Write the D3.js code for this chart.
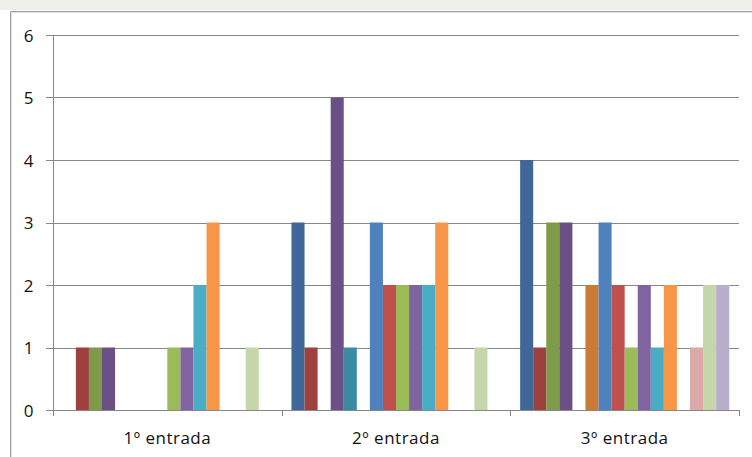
<!DOCTYPE html>
<html><head><meta charset="utf-8">
<script src="https://cdn.jsdelivr.net/npm/d3@7"></script>
<style>body{margin:0;background:#fff;}svg{display:block;}</style>
</head><body>
<svg id="c" width="752" height="457"></svg>
<script>
const categories = ["1º entrada", "2º entrada", "3º entrada"];
const seriesNames = ["S1","S2","S3","S4","S5","S6","S7","S8","S9","S10","S11","S12","S13","S14","S15","S16"];
const seriesColors = ["#3F6898","#9D403E","#7F9A48","#6A5086","#3A8BA2","#CC7B37","#4F81BD","#C0504D","#9BBB59","#8064A2","#4BACC6","#F79646","#95B3D7","#DBA9A8","#C5D7AA","#B8AECC"];
const values1 = [0,1,1,1,0,0,0,0,1,1,2,3,0,0,1,0];
const values2 = [3,1,0,5,1,0,3,2,2,2,2,3,0,0,1,0];
const values3 = [4,1,3,3,0,2,3,2,1,2,1,2,0,1,2,2];
const yTicks = [0,1,2,3,4,5,6];

const data = [values1, values2, values3];
const svg = d3.select("#c");
const font = "'Open Sans', 'Noto Sans', sans-serif";

// chart area frame
svg.append("rect").attr("x",0).attr("y",0).attr("width",752).attr("height",10).attr("fill","#F0F0EA");
svg.append("path").attr("d","M10.5,457V11.5H752").attr("fill","none").attr("stroke","#9E9E9E").attr("stroke-width",1);
svg.append("path").attr("d","M11.5,457V12.5H752").attr("fill","none").attr("stroke","#E4E4E4").attr("stroke-width",1);

const x0 = d3.scaleBand().domain(categories).range([53, 739]).paddingInner(0).paddingOuter(0);
const x1 = d3.scaleBand().domain(d3.range(seriesNames.length)).range([0, x0.bandwidth()]).paddingInner(0).paddingOuter(0.75);
const y = d3.scaleLinear().domain([0,6]).range([410, 35]);

// gridlines
svg.append("g").selectAll("line").data(yTicks).join("line")
  .attr("x1",46).attr("x2",739)
  .attr("y1",d=>Math.round(y(d))+0.5).attr("y2",d=>Math.round(y(d))+0.5)
  .attr("stroke","#878787").attr("stroke-width",1);

// bars
const g = svg.append("g");
categories.forEach((c, ci) => {
  g.append("g").selectAll("rect").data(data[ci].map((v,i)=>({v,i}))).join("rect")
    .attr("x", d => x0(c) + x1(d.i))
    .attr("width", x1.bandwidth())
    .attr("y", d => y(d.v))
    .attr("height", d => y(0) - y(d.v))
    .attr("fill", d => seriesColors[d.i]);
});

// y axis line
svg.append("line").attr("x1",53.5).attr("x2",53.5).attr("y1",35).attr("y2",410).attr("stroke","#878787");
// x axis baseline
svg.append("line").attr("x1",53).attr("x2",739).attr("y1",410.5).attr("y2",410.5).attr("stroke","#878787");
// category ticks
svg.append("g").selectAll("line").data(d3.range(categories.length+1)).join("line")
  .attr("x1",d=>Math.round(53 + d*x0.bandwidth())+0.5).attr("x2",d=>Math.round(53 + d*x0.bandwidth())+0.5)
  .attr("y1",410).attr("y2",416).attr("stroke","#878787");

// y labels
svg.append("g").selectAll("text").data(yTicks).join("text")
  .attr("x",33.5).attr("y",d=>y(d)+6.5).attr("text-anchor","end")
  .attr("font-family",font).attr("font-size",17).attr("fill","#111").text(d=>d);

// category labels
svg.append("g").selectAll("text").data(categories).join("text")
  .attr("x",d=>x0(d)+x0.bandwidth()/2).attr("y",443.5).attr("text-anchor","middle")
  .attr("font-family",font).attr("font-size",17).attr("fill","#111").attr("letter-spacing",0.5).text(d=>d);
</script>
</body></html>
